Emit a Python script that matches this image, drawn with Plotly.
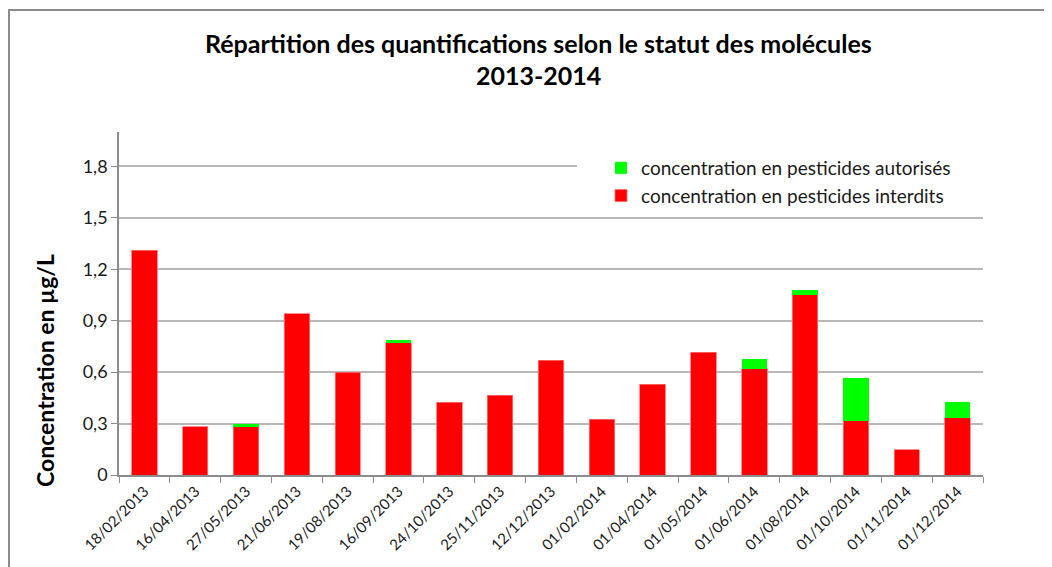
import plotly.graph_objects as go

dates = ["18/02/2013", "16/04/2013", "27/05/2013", "21/06/2013", "19/08/2013",
         "16/09/2013", "24/10/2013", "25/11/2013", "12/12/2013", "01/02/2014",
         "01/04/2014", "01/05/2014", "01/06/2014", "01/08/2014", "01/10/2014",
         "01/11/2014", "01/12/2014"]
interdits = [1.31, 0.28, 0.28, 0.94, 0.60, 0.77, 0.425, 0.465, 0.67, 0.325,
             0.53, 0.715, 0.62, 1.05, 0.315, 0.147, 0.335]
autorises = [0.0, 0.0, 0.018, 0.0, 0.0, 0.016, 0.0, 0.0, 0.0, 0.0,
             0.0, 0.0, 0.056, 0.027, 0.25, 0.0, 0.09]
y_ticks = [0, 0.3, 0.6, 0.9, 1.2, 1.5, 1.8]
y_tick_labels = ["0", "0,3", "0,6", "0,9", "1,2", "1,5", "1,8"]

FONT = "Lato"
OFF = 8  # page body margin
SCREEN_W, SCREEN_H = 1052, 567
PL, PR, PT, PB = 119, 983, 132, 475   # target plot area on screen
W, H = SCREEN_W - OFF, SCREEN_H - OFF
L, T = PL - OFF, PT - OFF
PW, PH = PR - PL, PB - PT
R, B = W - L - PW, H - T - PH

def px_x(x):
    return (x - PL) / PW

def px_y(y):
    return (PB - y) / PH

fig = go.Figure()
fig.add_trace(go.Bar(x=dates, y=interdits, name="concentration en pesticides interdits",
                     legendgroup="a", legendrank=2,
                     marker=dict(color="#ff0000", line=dict(color="#ff7070", width=0.8))))
fig.add_trace(go.Bar(x=dates, y=autorises, name="concentration en pesticides autorisés",
                     legendgroup="b", legendrank=1,
                     marker=dict(color="#00ff00", line=dict(width=0))))

fig.update_layout(
    width=W, height=H,
    margin=dict(l=L, r=R, t=T, b=B),
    barmode="stack", bargap=0.5,
    plot_bgcolor="white", paper_bgcolor="white",
    font=dict(family=FONT, color="#000000"),
    showlegend=True,
    legend=dict(x=px_x(601), y=px_y(149), xanchor="left", yanchor="top",
                traceorder="grouped", bgcolor="rgba(0,0,0,0)",
                font=dict(family=FONT, size=19, color="#1a1a1a"),
                itemwidth=30, tracegroupgap=0),
    annotations=[
        dict(text="<b>Répartition des quantifications selon le statut des molécules</b>",
             x=px_x(538), y=px_y(43), xref="paper", yref="paper", showarrow=False,
             font=dict(family=FONT, size=25, color="#000000"), xanchor="center", yanchor="middle"),
        dict(text="<b>2013-2014</b>",
             x=px_x(538), y=px_y(75), xref="paper", yref="paper", showarrow=False,
             font=dict(family=FONT, size=25, color="#000000"), xanchor="center", yanchor="middle"),
        dict(text="<b>Concentration en µg/L</b>",
             x=px_x(45), y=px_y(371), xref="paper", yref="paper", showarrow=False,
             textangle=-90, font=dict(family=FONT, size=23, color="#000000"),
             xanchor="center", yanchor="middle"),
    ],
    shapes=[
        dict(type="rect", xref="paper", yref="paper",
             x0=px_x(9), x1=px_x(1070), y0=px_y(600), y1=px_y(10),
             line=dict(color="#8c8c8c", width=2), fillcolor="rgba(0,0,0,0)", layer="below"),
        dict(type="rect", xref="paper", yref="paper",
             x0=px_x(577), x1=1.0, y0=px_y(210), y1=px_y(150),
             line=dict(width=0), fillcolor="white", layer="above"),
    ],
)

fig.update_xaxes(
    type="category", tickson="boundaries", ticks="outside", ticklen=6,
    tickcolor="#8c8c8c", showline=True, linecolor="#8c8c8c", linewidth=1.5,
    tickangle=-45, tickfont=dict(family=FONT, size=15, color="#1a1a1a"),
    showgrid=False,
)
fig.update_yaxes(
    range=[0, 2.0], tickvals=y_ticks, ticktext=y_tick_labels,
    ticks="outside", ticklen=6, tickcolor="#8c8c8c",
    showline=True, linecolor="#8c8c8c", linewidth=1.5,
    showgrid=True, gridcolor="#b8b8b8", gridwidth=1.5,
    tickfont=dict(family=FONT, size=18, color="#1a1a1a"), zeroline=False,
)

fig.write_html("out.html")
